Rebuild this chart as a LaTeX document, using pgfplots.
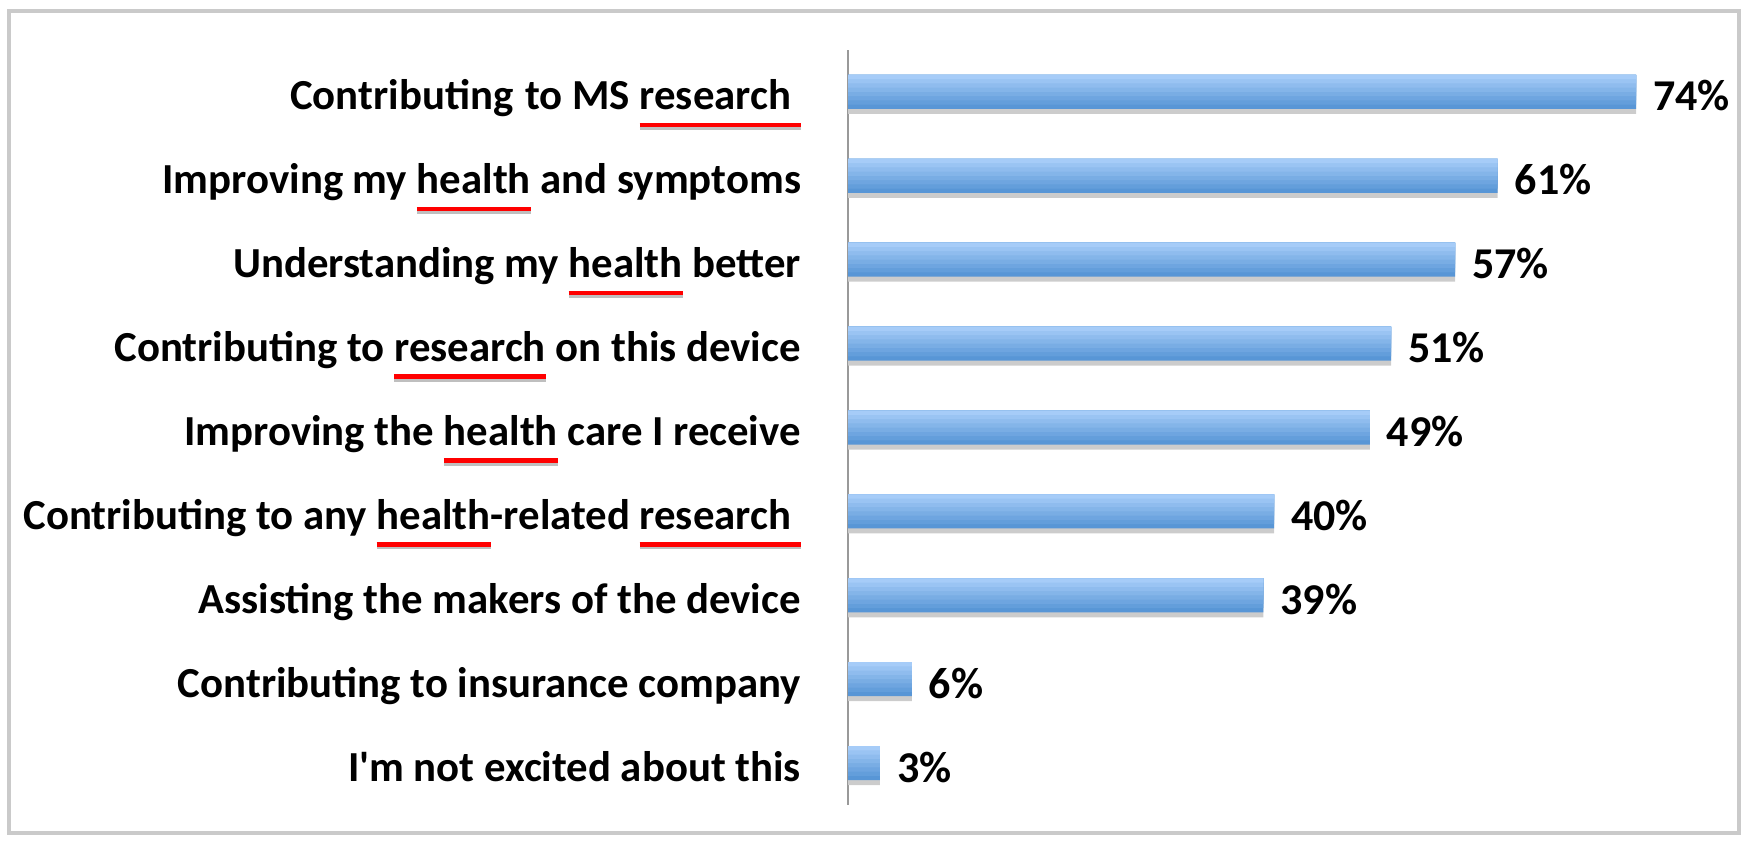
\documentclass[border=0pt]{standalone}
\usepackage{pgfplots}
\usepackage{pgfplotstable}
\pgfplotsset{compat=1.18}
\usepackage{fontspec}
\setmainfont{Carlito}
\definecolor{barBot}{HTML}{5896D6}
\definecolor{barTop}{HTML}{A6CCF8}
\definecolor{frameGrey}{HTML}{CACACA}
\newcommand\ru[1]{\setbox0\hbox{#1}\rlap{\color{black!25}\rule[-10pt]{\wd0}{1.4pt}}\rlap{\color{red}\rule[-8.6pt]{\wd0}{2.2pt}}\box0\relax}
\pgfplotstableread{
pos val
0 74
1 61
2 57
3 51
4 49
5 40
6 39
7 6
8 3
}\datatable
\begin{document}
\begin{tikzpicture}[x=1pt,y=1pt]
\useasboundingbox (0pt,0pt) rectangle (874pt,-420pt);
\draw[line width=2.2pt, color=frameGrey] (4.5pt,-5.5pt) rectangle (869.5pt,-416.5pt);
\begin{axis}[
  at={(424pt,-25pt)}, anchor=north west,
  scale only axis, width=426pt, height=377.5pt,
  xbar, bar width=17pt,
  xmin=0, xmax=80, ymin=-0.5, ymax=8.5,
  y dir=reverse,
  axis x line=none, axis y line*=left,
  y axis line style={draw=black!40, line width=1pt, -},
  ytick={0,1,2,3,4,5,6,7,8},
  major tick length=0pt,
  yticklabels={
    {Contributing\hspace{6pt}to MS \ru{research\ }},
    {Improving my \ru{health} and symptoms\ },
    {Understanding my \ru{health} better\ },
    {Contributing to \ru{research} on this device\ },
    {Improving the \ru{health} care I receive\ },
    {Contributing to any \ru{health}-related \ru{research\ }},
    {Assisting the makers of the device},
    {Contributing to insurance company\ },
    {I\textquotesingle m not excited about this}},
  yticklabel style={font=\bfseries\fontsize{21.4}{25}\selectfont, anchor=base east, xshift=-20pt, yshift=-9pt},
  clip=false,
]
% shadow
\addplot[draw=none, fill=black!20, bar shift=-2.5pt, forget plot] table[x=val, y=pos]{\datatable};
% bar with gradient layers (darkest, full height first)
\addplot[draw=none, fill=barBot, bar shift=0pt,
  point meta=x,
  nodes near coords={\pgfmathprintnumber{\pgfplotspointmeta}\%},
  nodes near coords style={font=\bfseries\fontsize{22}{26}\selectfont, anchor=west, xshift=5pt, yshift=-2pt, text=black, /pgf/number format/assume math mode=true}]
  table[x=val, y=pos]{\datatable};
\addplot[draw=none, fill=barTop!14!barBot, bar width=14.875pt, bar shift=1.0625pt, forget plot] table[x=val, y=pos]{\datatable};
\addplot[draw=none, fill=barTop!28!barBot, bar width=12.75pt, bar shift=2.125pt, forget plot] table[x=val, y=pos]{\datatable};
\addplot[draw=none, fill=barTop!42!barBot, bar width=10.625pt, bar shift=3.1875pt, forget plot] table[x=val, y=pos]{\datatable};
\addplot[draw=none, fill=barTop!57!barBot, bar width=8.5pt, bar shift=4.25pt, forget plot] table[x=val, y=pos]{\datatable};
\addplot[draw=none, fill=barTop!71!barBot, bar width=6.375pt, bar shift=5.3125pt, forget plot] table[x=val, y=pos]{\datatable};
\addplot[draw=none, fill=barTop!85!barBot, bar width=4.25pt, bar shift=6.375pt, forget plot] table[x=val, y=pos]{\datatable};
\addplot[draw=none, fill=barTop, bar width=2.125pt, bar shift=7.4375pt, forget plot] table[x=val, y=pos]{\datatable};
\end{axis}
\end{tikzpicture}
\end{document}
